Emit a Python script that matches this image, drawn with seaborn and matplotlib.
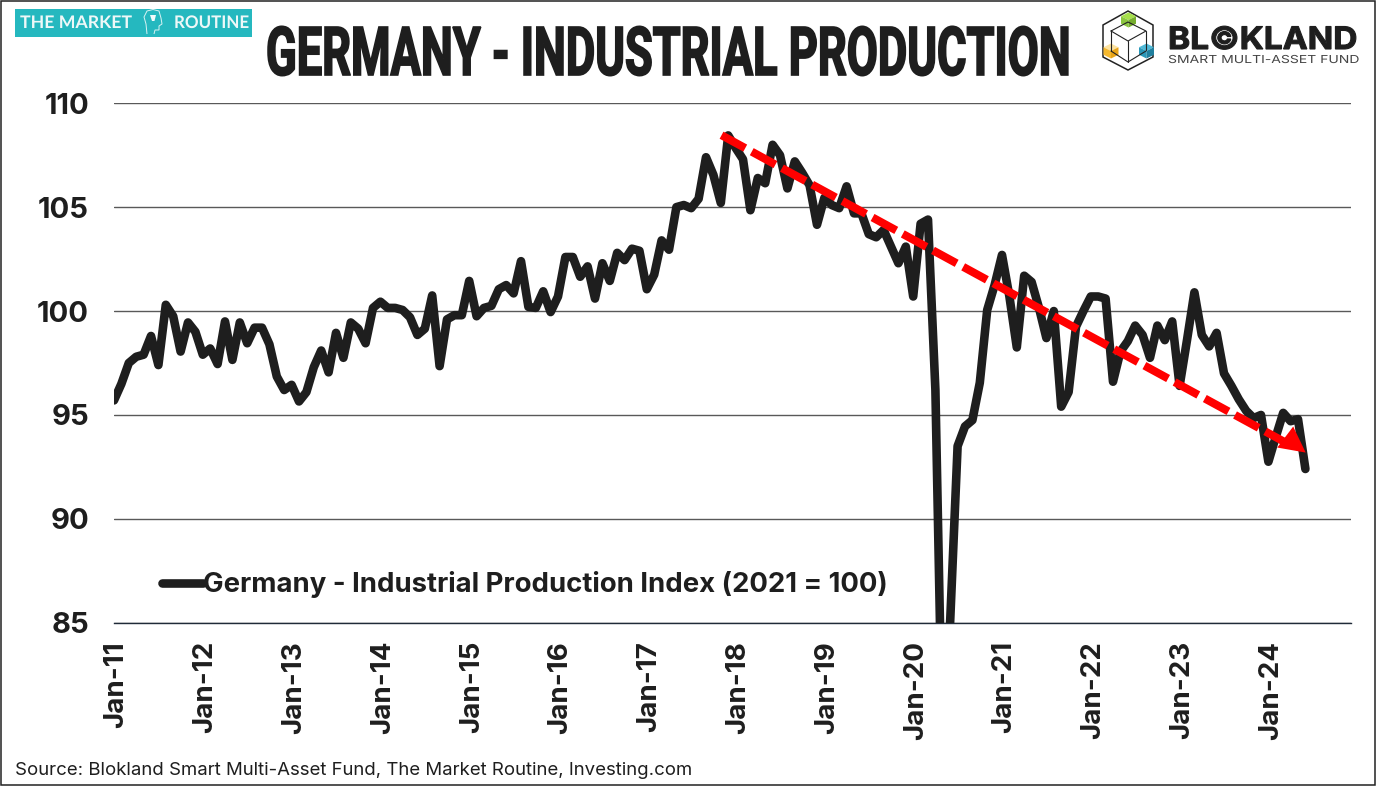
import numpy as np
import pandas as pd
import seaborn as sns
import matplotlib
matplotlib.use("Agg")
import matplotlib.pyplot as plt
from matplotlib.patches import Polygon, Rectangle
from matplotlib.patheffects import AbstractPathEffect
from matplotlib.transforms import Affine2D, ScaledTranslation

# ---- data -------------------------------------------------------------
production = [
    95.7, 96.5, 97.5, 97.8, 97.9, 98.8, 97.4, 100.3, 99.75, 98.05, 99.45, 99.0,
    97.9, 98.2, 97.45, 99.5, 97.65, 99.45, 98.45, 99.2, 99.2, 98.4, 96.85, 96.2,
    96.45, 95.65, 96.1, 97.3, 98.1, 97.05, 98.95, 97.75, 99.45, 99.15, 98.45, 100.15,
    100.45, 100.15, 100.15, 100.05, 99.7, 98.85, 99.15, 100.75, 97.35, 99.6, 99.8, 99.8,
    101.45, 99.75, 100.15, 100.25, 101.05, 101.25, 100.85, 102.4, 100.2, 100.15, 100.95, 99.95,
    100.7, 102.6, 102.6, 101.65, 102.15, 100.6, 102.3, 101.45, 102.8, 102.45, 103.0, 102.9,
    101.05, 101.75, 103.4, 102.95, 105.0, 105.1, 104.95, 105.4, 107.4, 106.55, 105.2, 108.45,
    107.85, 107.3, 104.85, 106.4, 106.15, 108.0, 107.5, 105.9, 107.2, 106.65, 106.05, 104.15,
    105.45, 105.1, 104.95, 106.0, 104.7, 104.7, 103.7, 103.55, 103.9, 103.1, 102.3, 103.1,
    100.7, 104.2, 104.4, 96.2, 78.0, 85.1, 93.5, 94.45, 94.75, 96.55, 100.05, 101.25,
    102.7, 100.7, 98.25, 101.7, 101.4, 100.15, 98.7, 100.0, 95.4, 96.1, 99.25, 100.0,
    100.7, 100.7, 100.6, 96.6, 98.05, 98.55, 99.3, 98.85, 97.75, 99.3, 98.6, 99.5,
    96.4, 98.6, 100.9, 98.85, 98.3, 98.95, 97.0, 96.4, 95.75, 95.2, 94.85, 95.0,
    92.75, 93.95, 95.1, 94.7, 94.8, 92.4,
]
month_index = list(range(len(production)))
year_tick_months = list(range(0, 168, 12))
year_tick_labels = ["Jan-11", "Jan-12", "Jan-13", "Jan-14", "Jan-15", "Jan-16", "Jan-17",
                    "Jan-18", "Jan-19", "Jan-20", "Jan-21", "Jan-22", "Jan-23", "Jan-24"]
y_ticks = [85, 90, 95, 100, 105, 110]
trend_months = [82.1, 158.6]
trend_values = [108.46, 93.62]
trend_tip_month = 161.04
trend_tip_value = 93.19
series_name = "Germany - Industrial Production Index (2021 = 100)"
title_text = "GERMANY - INDUSTRIAL PRODUCTION"
source_text = "Source: Blokland Smart Multi-Asset Fund, The Market Routine, Investing.com"

W, H = 1377, 786
DARK = "#1e1e1e"

sns.set_theme(style="white")
plt.rcParams["font.family"] = ["Inter", "DejaVu Sans"]

fig = plt.figure(figsize=(W / 100, H / 100), dpi=100, facecolor="white")
ax = fig.add_axes([114 / W, 1 - 622.8 / H, (1351 - 114) / W, (622.8 - 103.2) / H])

df = pd.DataFrame({"month": month_index, "value": production})
sns.lineplot(data=df, x="month", y="value", ax=ax, color=DARK, linewidth=6.2,
             label=series_name, estimator=None, sort=False,
             solid_joinstyle="round", solid_capstyle="round", zorder=3)

ax.plot(trend_months, trend_values, color="#ff0000", linewidth=5.8,
        linestyle=(0, (3.35, 0.92)), dash_capstyle="butt", zorder=4)
ax.annotate("", xy=(trend_tip_month, trend_tip_value),
            xytext=(trend_months[1] - 1.0, trend_values[1] + 0.5),
            arrowprops=dict(arrowstyle="-|>,head_length=18.5,head_width=9.5", mutation_scale=1,
                            color="#ff0000", linewidth=0, shrinkA=0, shrinkB=0), zorder=5)

ax.set_xlim(0, (1351 - 114) / 7.4)
ax.set_ylim(85, 110)
ax.set_xlabel("")
ax.set_ylabel("")
ax.set_yticks(y_ticks)
ax.set_xticks(year_tick_months)
ax.set_xticklabels(year_tick_labels, rotation=90, fontsize=20, fontweight="bold", color=DARK)
ax.tick_params(axis="x", length=0, pad=13)
ax.tick_params(axis="y", length=0, pad=18, labelsize=21, labelcolor=DARK)
nudge = ScaledTranslation(2.5 / 100, 0, fig.dpi_scale_trans)
for lab in ax.get_xticklabels():
    lab.set_transform(lab.get_transform() + nudge)
for lab in ax.get_yticklabels():
    lab.set_fontweight("bold")
ax.grid(axis="y", color="#595959", linewidth=1.0)
ax.grid(axis="x", visible=False)
ax.set_axisbelow(True)
for side in ["top", "left", "right"]:
    ax.spines[side].set_visible(False)
ax.spines["bottom"].set_color("#1f2a38")
ax.spines["bottom"].set_linewidth(1.0)

leg = ax.legend(loc="center left", bbox_to_anchor=((162 - 114) / 1237, (623 - 585) / 519.5),
                frameon=False, handlelength=1.5, handletextpad=0.0, borderpad=0, borderaxespad=0,
                prop=dict(size=19.8, weight="bold"))
for t in leg.get_texts():
    t.set_color(DARK)


class Stretch(AbstractPathEffect):
    """Scale glyphs about a left/baseline anchor and optionally thicken them."""
    def __init__(self, sx, sy, x0, y0, stroke=0.0, color=DARK):
        super().__init__()
        self.sx, self.sy, self.x0, self.y0, self.stroke, self.color = sx, sy, x0, y0, stroke, color

    def draw_path(self, renderer, gc, tpath, affine, rgbFace=None):
        a = affine + (Affine2D().translate(-self.x0, -self.y0)
                      .scale(self.sx, self.sy).translate(self.x0, self.y0))
        if self.stroke > 0:
            g = renderer.new_gc()
            g.copy_properties(gc)
            g.set_foreground(self.color)
            g.set_linewidth(self.stroke)
            g.set_joinstyle("miter")
            renderer.draw_path(g, tpath, a, rgbFace)
            g.restore()
        else:
            renderer.draw_path(gc, tpath, a, rgbFace)


# overlay in pixel coordinates for header furniture
ov = fig.add_axes([0, 0, 1, 1], zorder=10)
ov.set_xlim(0, W)
ov.set_ylim(H, 0)
ov.axis("off")
ov.patch.set_alpha(0)
renderer = fig.canvas.get_renderer()


def fit_text(text, x0, x1, top, base, family, weight, color, cap=0.72, stroke=0.0, by_height=False):
    """Real text spanning x0..x1 with its capitals reaching from base up to top."""
    t = ov.text(x0, base, text, ha="left", va="baseline", fontsize=20,
                family=[family, "DejaVu Sans"], fontweight=weight, color=color)
    if by_height:
        size = (base - top) / cap * 72 / 100
        t.set_fontsize(size)
        sx = (x1 - x0) / t.get_window_extent(renderer).width
        sy = 1.0
    else:
        size = 20 * (x1 - x0) / t.get_window_extent(renderer).width
        t.set_fontsize(size)
        sx = 1.0
        sy = (base - top) / (size * 100 / 72 * cap)
    t.set_path_effects([Stretch(sx, sy, x0, H - base, stroke, color)])
    return t


ov.add_patch(Rectangle((0.75, 0.75), W - 2.5, H - 1.5, fill=False, edgecolor="#222222", linewidth=1.1))

fit_text(title_text, 266, 1069, 27, 75, "Roboto", "bold", DARK, cap=0.711, stroke=1.2)

ov.text(15, 770.5, source_text, ha="left", va="center", fontsize=13.4, color=DARK)

# market routine badge
ov.add_patch(Rectangle((15, 9), 237, 28, facecolor="#25b8bf", edgecolor="none"))
fit_text("THE MARKET", 20, 132, 15.5, 28, "Lato", "bold", "#eef8f8", by_height=True)
fit_text("ROUTINE", 174, 249, 15.5, 28, "Lato", "bold", "#eef8f8", by_height=True)
ov.add_patch(Polygon([(147, 34), (146, 24), (144, 17), (147, 11), (153, 9.5), (159, 11),
                      (161, 18), (162, 24), (159, 26), (159, 30), (155, 30), (154, 34)],
                     closed=False, fill=False, edgecolor="#d8f2f3", linewidth=0.7))
ov.add_patch(Polygon([(150, 15), (156, 15), (154.5, 21), (152, 21)], facecolor="#f2fbfb", edgecolor="none"))

# blokland logo
hexagon = [(1128, 11), (1153, 25), (1153, 57), (1128, 70), (1103, 57), (1103, 25)]
ov.add_patch(Polygon(hexagon, fill=False, edgecolor="#222222", linewidth=1.1))
for seg in [[(1111, 31), (1128, 22), (1146, 31), (1128, 41), (1111, 31)],
            [(1111, 31), (1111, 51)], [(1128, 41), (1128, 62)], [(1146, 31), (1146, 50)],
            [(1111, 51), (1128, 62), (1146, 51)]]:
    ov.plot(*zip(*seg), color="#222222", linewidth=0.8)


def cube(cx, cy, top, left, right, r=7.5):
    ov.add_patch(Polygon([(cx, cy - r), (cx + r, cy - r / 2), (cx, cy), (cx - r, cy - r / 2)], facecolor=top, edgecolor="none"))
    ov.add_patch(Polygon([(cx - r, cy - r / 2), (cx, cy), (cx, cy + r), (cx - r, cy + r / 2)], facecolor=left, edgecolor="none"))
    ov.add_patch(Polygon([(cx + r, cy - r / 2), (cx, cy), (cx, cy + r), (cx + r, cy + r / 2)], facecolor=right, edgecolor="none"))


cube(1128.5, 20, "#a6e04a", "#8cc63f", "#76ad2e")
cube(1111, 51, "#fde3a0", "#f5b82e", "#e8a417")
cube(1146.5, 51, "#4fb8d6", "#2a97b8", "#1f7f9e")

fit_text("BL©KLAND", 1168, 1358, 26.5, 49, "Inter", "bold", DARK, cap=0.727, stroke=0.8)
fit_text("SMART MULTI-ASSET FUND", 1168, 1360, 55, 63, "Inter", "normal", "#444444", cap=0.727, by_height=True)

fig.savefig("out.png", dpi=100, facecolor="white")
